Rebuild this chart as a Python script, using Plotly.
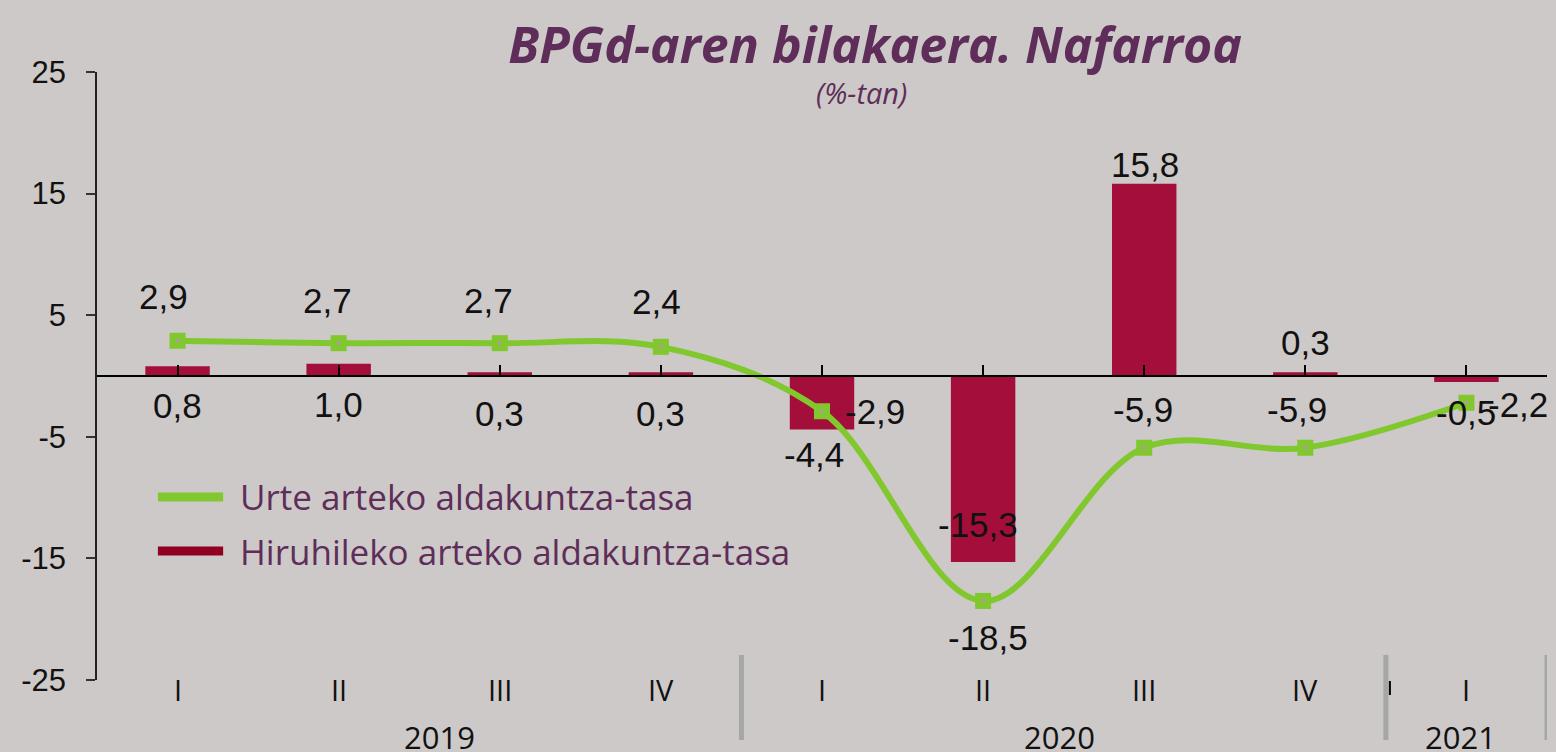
import plotly.graph_objects as go

# ---------------- data ----------------
quarters = ["I", "II", "III", "IV", "I", "II", "III", "IV", "I"]
years = ["2019", "2020", "2021"]
year_groups = [(0, 3), (4, 7), (8, 8)]
urte_arteko = [2.9, 2.7, 2.7, 2.4, -2.9, -18.5, -5.9, -5.9, -2.2]
hiruhileko = [0.8, 1.0, 0.3, 0.3, -4.4, -15.3, 15.8, 0.3, -0.5]
y_ticks = [-25, -15, -5, 5, 15, 25]

title_text = "BPGd-aren bilakaera. Nafarroa"
subtitle_text = "(%-tan)"
name_line = "Urte arteko aldakuntza-tasa"
name_bar = "Hiruhileko arteko aldakuntza-tasa"

# ---------------- styles ----------------
BG = "#CDC9C8"
GREEN = "#80C82D"
BAR = "#A30E3A"
BAR_LEG = "#900020"
PURPLE = "#5E2D59"
TXT = "#111111"

# label pixel offsets (style only)
line_lbl_dx = [-14, -11, -11, -4, 53, 5, -1, -8, 52]
line_lbl_dy = [44, 43, 43, 45, 0, -37, 38, 38, -2]
bar_lbl_dx = [0, 0, 0, 0, -8, -5, 1, 0, 0]
bar_lbl_dy = [-39, -41, -41, -41, -25, 38, 19, 30, -30]
year_dx = [20, -4, -6]

x = list(range(len(quarters)))


def fmt(v):
    return f"{v:.1f}".replace(".", ",")


fig = go.Figure()

fig.add_trace(go.Bar(
    x=x, y=hiruhileko, name=name_bar, width=0.4,
    marker=dict(color=BAR, line=dict(width=0)),
    xaxis="x", yaxis="y", showlegend=False, hoverinfo="skip",
))

fig.add_trace(go.Scatter(
    x=x, y=urte_arteko, name=name_line, mode="lines+markers",
    line=dict(color=GREEN, width=6, shape="spline", smoothing=1.0),
    marker=dict(symbol="square", size=16, color=GREEN, line=dict(width=0)),
    xaxis="x2", yaxis="y", showlegend=False, hoverinfo="skip",
))
fig.add_trace(go.Scatter(
    x=x, y=urte_arteko, mode="markers",
    marker=dict(symbol="square", size=3, color="#C58BC0"),
    xaxis="x2", yaxis="y", showlegend=False, hoverinfo="skip",
))

annotations = []
label_font = dict(family="Liberation Sans, Arial", size=35, color=TXT)
for i, v in enumerate(urte_arteko):
    annotations.append(dict(x=x[i], y=v, xref="x", yref="y", text=fmt(v),
                            showarrow=False, xanchor="center", yanchor="middle",
                            xshift=line_lbl_dx[i], yshift=line_lbl_dy[i], font=label_font))
for i, v in enumerate(hiruhileko):
    annotations.append(dict(x=x[i], y=v, xref="x", yref="y", text=fmt(v),
                            showarrow=False, xanchor="center", yanchor="middle",
                            xshift=bar_lbl_dx[i], yshift=bar_lbl_dy[i], font=label_font))

# quarter labels
for i, q in enumerate(quarters):
    annotations.append(dict(x=x[i], y=0, xref="x", yref="paper", text=q,
                            showarrow=False, xanchor="center", yanchor="middle",
                            yshift=-9, font=dict(family="Open Sans", size=29, color=TXT)))
# year labels
for k, yr in enumerate(years):
    a, b = year_groups[k]
    annotations.append(dict(x=(a + b) / 2, y=0, xref="x", yref="paper", text=yr,
                            showarrow=False, xanchor="center", yanchor="middle",
                            xshift=year_dx[k], yshift=-57,
                            font=dict(family="Open Sans", size=31, color=TXT)))

# subtitle
annotations.append(dict(x=0.5269, y=0.9655, xref="paper", yref="paper", text=subtitle_text,
                        showarrow=False, xanchor="center", yanchor="middle",
                        font=dict(family="Open Sans", size=29, color=PURPLE, style="italic")))

# manual legend
leg_y = [0.301, 0.212]
leg_col = [GREEN, BAR_LEG]
leg_txt = [name_line, name_bar]
shapes = []
for j in range(2):
    shapes.append(dict(type="line", xref="paper", yref="paper",
                       x0=0.042, x1=0.087, y0=leg_y[j], y1=leg_y[j],
                       line=dict(color=leg_col[j], width=9)))
    annotations.append(dict(x=0.0972, y=leg_y[j], xref="paper", yref="paper", text=leg_txt[j],
                            showarrow=False, xanchor="left", yanchor="middle",
                            font=dict(family="Open Sans", size=35, color=PURPLE)))

# group dividers
for xd in [3.5, 7.5, 8.5]:
    shapes.append(dict(type="line", xref="x", yref="paper", ysizemode="pixel", yanchor=0,
                       x0=xd, x1=xd, y0=-60, y1=25,
                       line=dict(color="#A6A6A6", width=5)))
shapes.append(dict(type="line", xref="x", yref="paper", ysizemode="pixel", yanchor=0,
                   xsizemode="pixel", xanchor=7.5, x0=4, x1=4, y0=-1, y1=-15,
                   line=dict(color="#000000", width=2)))
# y-axis line extension below the last tick
shapes.append(dict(type="line", xref="paper", yref="y", ysizemode="pixel", yanchor=-25,
                   x0=0, x1=0, y0=0, y1=-15, line=dict(color="#222222", width=1.5)))

fig.update_layout(
    width=1556, height=752,
    margin=dict(l=97, r=9, t=72, b=72),
    paper_bgcolor=BG, plot_bgcolor=BG,
    showlegend=False,
    bargap=0.6,
    title=dict(text=title_text, x=0.5624, xanchor="center", y=0.94, yanchor="middle",
               font=dict(family="Open Sans", size=50, color=PURPLE, weight="bold", style="italic")),
    xaxis=dict(range=[-0.5, 8.5], showticklabels=False, showline=False, ticks="",
               showgrid=False, zeroline=False, fixedrange=True),
    xaxis2=dict(overlaying="x", matches="x", anchor="free", position=0.5, side="bottom",
                showline=True, linecolor="#000000", linewidth=1.5,
                ticks="inside", ticklen=10, tickwidth=2, tickcolor="#000000",
                tickmode="array", tickvals=x, showticklabels=False,
                showgrid=False, zeroline=False),
    yaxis=dict(range=[-25, 25], tickmode="array", tickvals=y_ticks,
               ticktext=[str(t) for t in y_ticks],
               showline=True, linecolor="#222222", linewidth=1.5,
               ticks="outside", ticklen=9, tickcolor="#333333", tickwidth=1.5,
               ticklabelstandoff=14,
               tickfont=dict(family="Liberation Sans, Arial", size=31, color=TXT),
               showgrid=False, zeroline=False),
    annotations=annotations,
    shapes=shapes,
)

fig.write_html("out.html", config={"displayModeBar": False},
               post_script="document.body.style.margin='0';document.body.style.padding='0';")
